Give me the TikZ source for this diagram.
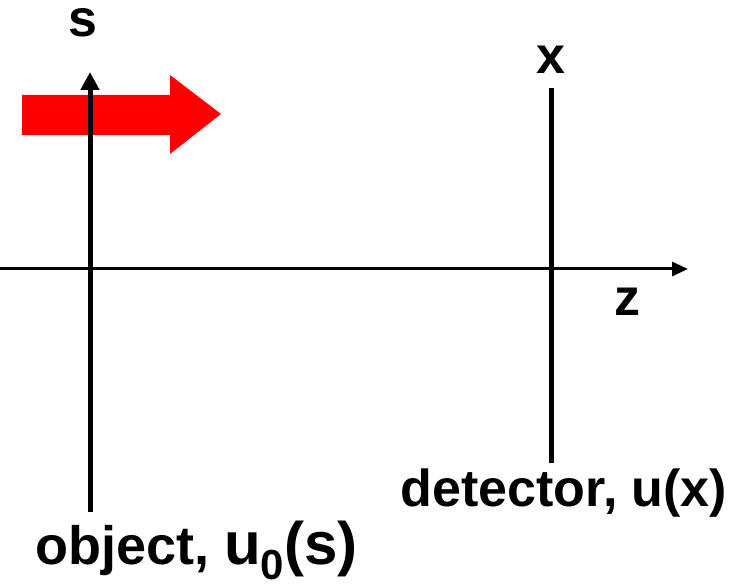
\documentclass[tikz,border=0pt]{standalone}
\usepackage{fontspec}
\setmainfont{Liberation Sans}
\usetikzlibrary{arrows.meta}
\definecolor{Beam}{HTML}{FF0000}
\newcommand{\bigfont}{\fontsize{60}{60}\selectfont}
\newcommand{\subfont}{\fontsize{42}{42}\selectfont}
\begin{document}
\begin{tikzpicture}[x=1pt,y=-1pt,every node/.style={font=\bfseries\fontsize{52}{52}\selectfont,inner sep=0pt,anchor=base}]
\tikzstyle{axis}=[line width=5pt,-{Triangle[length=18pt,width=18pt]}]
\tikzstyle{plane}=[line width=5pt]
\useasboundingbox (0,0) rectangle (737,585);
% beam
\fill[Beam] (22,95) -- (170,95) -- (170,75) -- (221,114) -- (170,154) -- (170,135) -- (22,135) -- cycle;
% optical axis
\coordinate (zin) at (0,269);
\coordinate (ztip) at (688,269);
\draw[line width=3pt,-{Triangle[length=16pt,width=14pt]}] (zin) -- (ztip);
\node (zlab) at (627,316) {z};
% object plane
\coordinate (obot) at (90,512);
\coordinate (otop) at (90,72);
\draw[axis] (obot) -- (otop);
\node (slab) at (83,37) {s};
\node[anchor=base west,font=\bfseries\fontsize{54}{54}\selectfont] (olab) at (35,564) {object, {\bigfont u\raisebox{-15pt}{\subfont 0}(s)}};
% detector plane
\coordinate (dbot) at (551,463);
\coordinate (dtop) at (551,88);
\draw[plane] (dbot) -- (dtop);
\node (xlab) at (551,74) {x};
\node (dlab) at (564,507) {detector, u(x)};
\end{tikzpicture}
\end{document}
